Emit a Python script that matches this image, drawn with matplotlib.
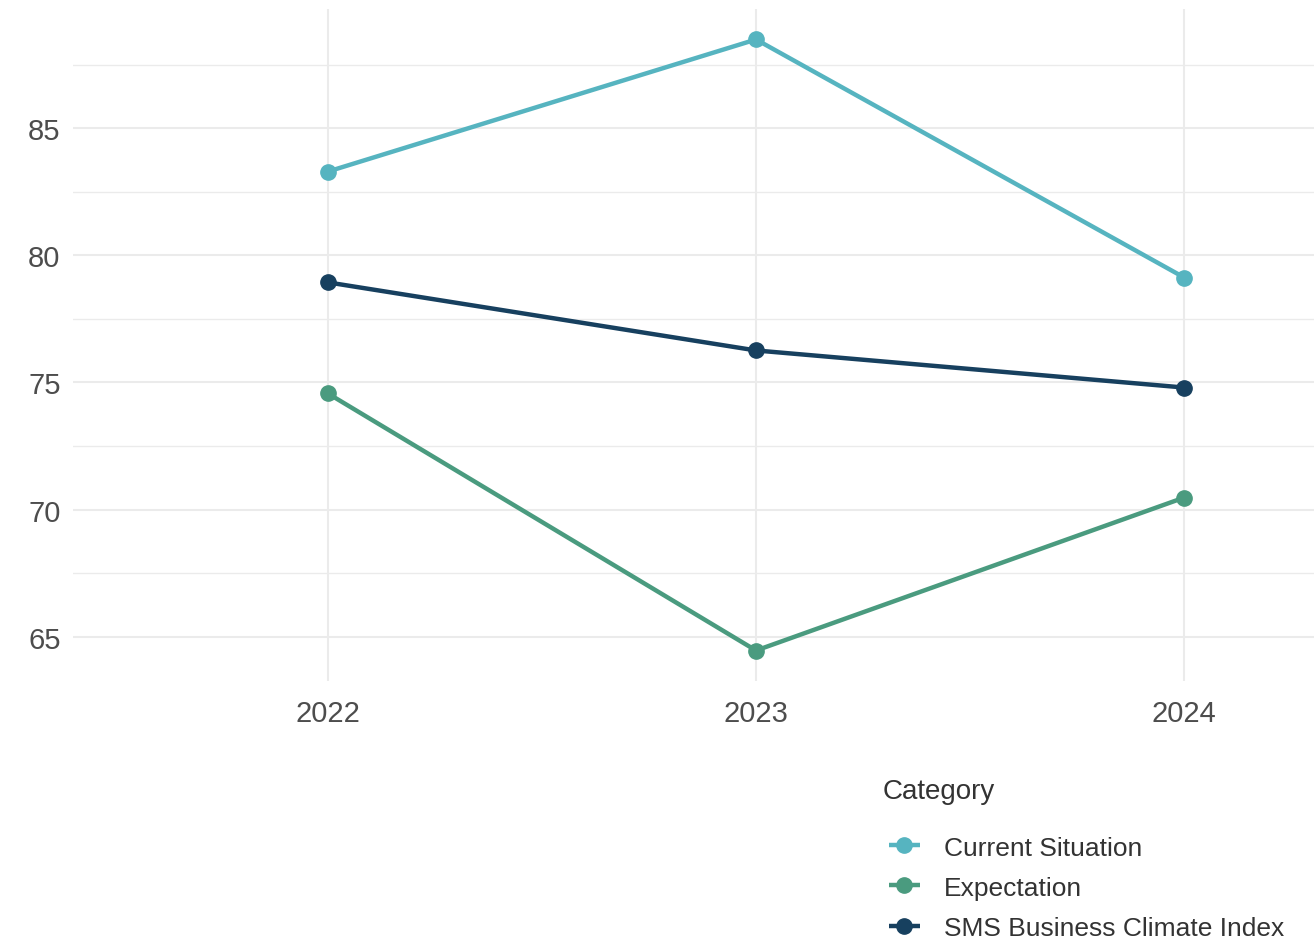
import matplotlib.pyplot as plt
from matplotlib.ticker import MultipleLocator

plt.rcParams['font.family'] = ['Liberation Sans', 'DejaVu Sans']

years = [2022, 2023, 2024]
current_situation = [83.3, 88.5, 79.13]
expectation = [74.57, 64.45, 70.47]
sms_index = [78.94, 76.26, 74.8]

series_names = ['Current Situation', 'Expectation', 'SMS Business Climate Index']
series_colors = ['#56B4C0', '#4A9B7F', '#17405F']
series_values = [current_situation, expectation, sms_index]

fig = plt.figure(figsize=(13.14, 9.37), dpi=100)
ax = fig.add_axes([73 / 1314, 1 - 682 / 937, 1 - 73 / 1314, 672 / 937])

for name, color, vals in zip(series_names, series_colors, series_values):
    ax.plot(years, vals, color=color, linewidth=3.2, marker='o', markersize=11,
            label=name, solid_capstyle='butt', zorder=3)

ax.set_xlim(2021.405, 2024.303)
ax.set_ylim(63.25, 89.7)
ax.set_xticks(years)
ax.set_xticklabels([str(y) for y in years])
ax.yaxis.set_major_locator(MultipleLocator(5))
ax.yaxis.set_minor_locator(MultipleLocator(2.5))

ax.grid(True, which='major', color='#EBEBEB', linewidth=1.5)
ax.grid(True, which='minor', axis='y', color='#EBEBEB', linewidth=1.0)
ax.set_axisbelow(True)
for s in ax.spines.values():
    s.set_visible(False)
ax.tick_params(axis='both', which='both', length=0, labelsize=21, labelcolor='#4D4D4D')
ax.tick_params(axis='y', pad=9)
ax.tick_params(axis='x', pad=13)

fig.text(883 / 1314, 1 - 792 / 937, 'Category', fontsize=20, color='#333333',
         ha='left', va='center')
leg = fig.legend(loc='upper left', bbox_to_anchor=(878 / 1314, 1 - 826 / 937),
                 frameon=False, fontsize=19, handlelength=1.2, handletextpad=0.9,
                 labelspacing=0.61, borderaxespad=0)
for t in leg.get_texts():
    t.set_color('#333333')

fig.savefig('out.png', dpi=100)
